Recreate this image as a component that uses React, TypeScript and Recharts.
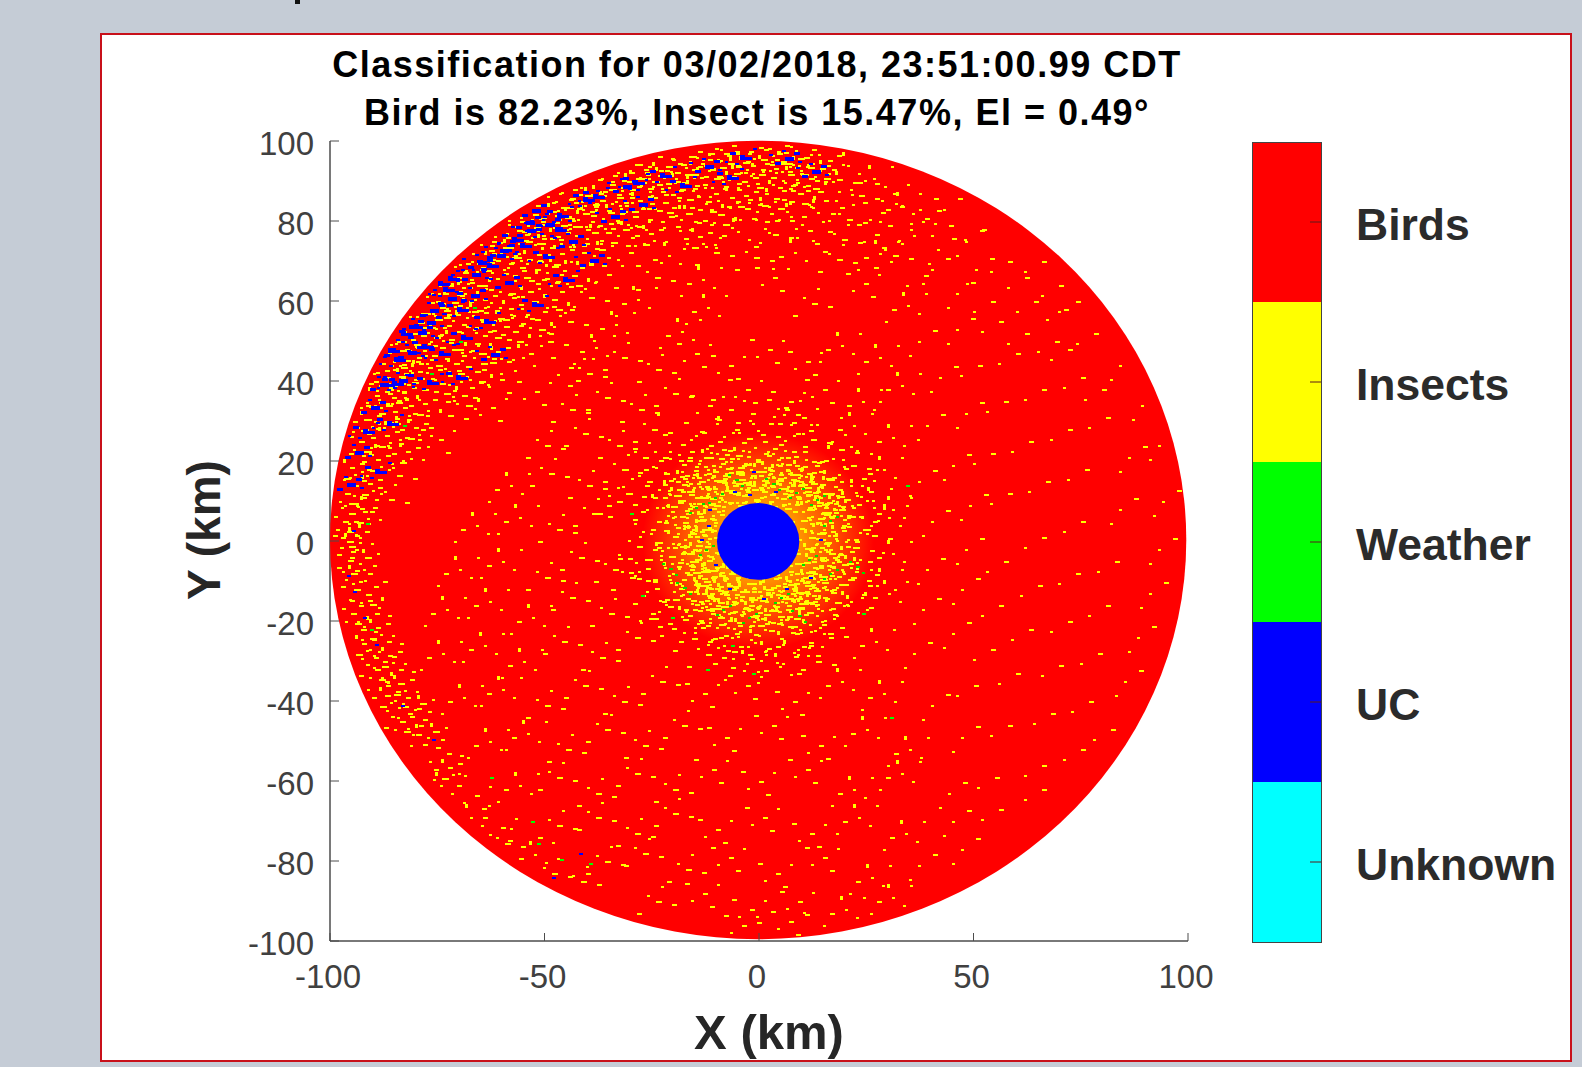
import React from "react"
import { Bar, BarChart, Scatter, ScatterChart, XAxis, YAxis } from "recharts"

const titleLines = ["Classification for 03/02/2018, 23:51:00.99 CDT", "Bird is 82.23%, Insect is 15.47%, El = 0.49°"]
const xTicks = [-100, -50, 0, 50, 100]
const yTicks = [-100, -80, -60, -40, -20, 0, 20, 40, 60, 80, 100]

// colorbar, bottom to top
const classNames = ["Unknown", "UC", "Weather", "Insects", "Birds"]
const classColors = ["#00ffff", "#0000ff", "#00ff00", "#ffff00", "#ff0000"]
const classTicks = [0.5, 1.5, 2.5, 3.5, 4.5]

const coverageDisc = [{ x: -0.2, y: 0.25, radius: 99.8 }]
const clutterHalo = [{ x: -0.2, y: 0, radius: 27 }]
const blankedCentre = [{ x: -0.2, y: -0.1, radius: 9.6 }]

// hand read echo positions (km), each one stands for a small clump of range gates
const insectCore = [
  [-14.2, 19.4], [-6.7, 19.9], [-0.6, 20], [6.4, 19.3], [11.3, 17], [-17.6, 15.8], [-10.8, 17.5], [-4.7, 17.2],
  [2.1, 18.1], [8.3, 16.8], [14.2, 14.2], [-15.3, 13.6], [-8.9, 15.2], [-2.2, 15.9], [4.4, 15.8], [10.1, 14.3], [16.2, 12.1],
  [-19.2, 11.5], [-12.3, 13.2], [-6.1, 13.9], [0.3, 13.1], [6.5, 13.7], [12.6, 12.3], [18.3, 9],
  [-16.4, 9.6], [-9.2, 11.8], [-3.1, 11.4], [3.2, 11.7], [9.4, 10.9], [15.1, 8.6], [-13.1, 7.9], [-7.3, 9.7],
  [-1.2, 10.5], [5.1, 10.8], [11.2, 8.1], [17.2, 6.5], [-18.3, 6.2], [-11.4, 5.8], [13.4, 4.8], [16.8, 2.6], [-15.2, 3.9],
  [-13.2, 1.8], [-17.4, 0.6], [12.1, 1.1], [15.4, -0.5], [-11.8, -0.4], [-14.8, -2.2], [11.9, -2.6], [18.3, -3.2],
  [-18.2, -4.4], [-12.1, -4.8], [-16.3, -6.1], [12.3, -5.1], [15.8, -5.9], [-11.4, -7.2], [11.6, -7.6], [19.2, -7],
  [-14.2, -8.9], [-8.4, -9.6], [14.2, -9.4], [-10.8, -10.1], [8.9, -10.6], [-13.1, -11], [7.6, -11.7], [13.3, -11.8],
  [-8.2, -12.4], [-16.2, -12.6], [-3.4, -12.1], [1.6, -11.9], [5.3, -12.3], [10.3, -12.7], [16.8, -12.7], [-11.2, -14.3], [-5.6, -14.1], [0.2, -14.8], [7.4, -14.3], [12.6, -15.1],
  [-13.3, -15.6], [-8.1, -16.2], [-2.4, -16], [3.6, -16.2], [9.5, -16.4], [-4.3, -18.6], [1.2, -18.2], [6.6, -18.7], [-10.2, -18.3],
]

const insectNear = [
  [-5.5, 28], [2.3, 29.5], [8.7, 27], [-13.4, 27.2], [-9.6, 25], [-2.8, 25.8], [4.6, 24.3], [12.2, 25.4], [-18.1, 24.2], [18.6, 23.1],
  [-22.3, 21], [16.9, 20.7], [21.4, 18.9], [-22.1, 17], [24.1, 15.8], [-26.2, 15], [22.4, 12.2], [-21.2, 12.1], [26.3, 10.2], [-24.1, 8.6],
  [19.4, 8.2], [23.2, 6.3], [-20.3, 6.1], [20.6, 3.8], [-25.2, 2.9], [26.4, 1.4], [-20.2, -0.4], [22.1, -1.4], [-28.4, -1.2], [-23.1, -3.4],
  [25.3, -4.9], [-26.3, -6.8], [21.4, -9.1], [-21.1, -8.4], [-24.3, -11.8], [24.1, -13.2], [-18.4, -13.4], [20.2, -15.8], [-21.3, -16.2], [-15.4, -17],
  [17.3, -18.2], [-25.2, -18.1], [-17.6, -19.4], [-7.3, -19.8], [-1.4, -20.1], [4.8, -19.6], [10.2, -20.3], [14.6, -20.7], [-12.4, -21], [-20.3, -21.8],
  [-4.6, -22.6], [2.3, -22.3], [8.4, -23], [16.2, -23.1], [-9.4, -24], [-15.6, -24.2], [-1.2, -25.3], [5.4, -25.8], [11.6, -25.2], [-6.2, -27.4],
  [1.4, -28.3], [8.1, -28.7], [-12.3, -28.2], [-3.1, -30.6], [13.4, -29.9], [4.6, -31.3], [-31, 12], [30, 6], [29, -10], [-30, -9], [-7, 33], [6, 33],
]

const insectBand = [
  [-8.2, 97], [-2.4, 97.6], [4.2, 97], [10.4, 96], [-13.3, 95.6], [-18.2, 94.2], [-23.4, 92.8], [-28.6, 90.8], [-5.3, 94.1], [1.4, 94.6],
  [7.6, 94.2], [14.2, 93.3], [-11.4, 93.2], [-17, 91.6], [-25, 90.1], [-32.2, 88.6], [-37.4, 87], [-21.3, 88.6], [-15.4, 88.3],
  [-7.2, 90.4], [-1.3, 91], [5.3, 90.2], [11.6, 90.8], [-41.6, 85.1], [-46.2, 83.4], [-34.6, 84.6], [-28.3, 85.3],
  [-22.4, 84.7], [-12.4, 85], [-3.4, 86.6], [3.6, 85.8], [9.2, 87], [-50.2, 81], [-42.4, 80.6],
  [-36.5, 80.8], [-29.3, 81.2], [-18.4, 80.6], [-9.3, 81.7], [-0.8, 82.4],
  [-55.2, 77.4], [-47.4, 76.2], [-40.3, 75.8], [-33.2, 76.6], [-25.6, 77], [-14.2, 76.3], [-58.4, 73.6], [-52.6, 72.4], [-46.4, 72], [-38.6, 71.6],
  [-62.4, 70.4], [-55.6, 68.6], [-49.6, 67.3], [-43.6, 66.4], [-66.6, 66.6], [-59.2, 64.6], [-53.8, 62.6], [-48.2, 60.6],
  [-70.2, 62.4], [-64.4, 60.4], [-58.2, 58.2], [-52.2, 55.6], [-74.4, 58.6], [-68.3, 56], [-62.3, 54.3], [-57.3, 52.6], [-76.6, 53.6], [-72.2, 50.6],
  [-66.3, 49.6], [-61.2, 47.4], [-81.2, 50.6], [-76.3, 46.6], [-71.2, 44.6], [-66.2, 42.6], [-84.3, 46], [-79.6, 42.6], [-74.3, 39.6], [-69.2, 36.6],
  [-87.2, 41], [-83.3, 37.6], [-78.4, 34.6], [-89.4, 36.4], [-85.3, 32.4], [-80.4, 28.6], [-91.4, 30.6], [-87.2, 26.6], [-82.4, 22.4], [-93.3, 25],
  [-89.2, 20.6], [-95.3, 18.6], [-91.2, 14.6], [-96.6, 12], [-92.4, 7.6], [-97, 5], [-94.2, 1.6], [-97.4, -1.6], [-93.2, -5.6], [-96.6, -9.6],
  [-91.6, -13.2], [-95, -18], [-89.3, -21.6], [-92.6, -25.4], [-86.4, -28.6], [-89.6, -32], [-83.6, -35.6], [-87, -38.4], [-80.4, -42], [-83.6, -45],
  [-77.3, -49], [-72.6, -56.6], [-47, 81.4], [-53.9, 77], [-60.4, 72], [-66.5, 66.5], [-72, 60.4], [-77, 54], [-81.4, 47], [-85.2, 39.7], [-88.3, 32],
]

const insectSparse = [
  [-40, 42], [-32, 46], [-24, 43], [-15, 47], [-7, 44], [2, 48], [11, 45], [19, 49], [28, 46], [37, 50], [46, 53], [56, 55], [64, 60], [71, 58],
  [-1.2, 71.1], [8.2, 72.2], [18.2, 70.4], [31.2, 71.4], [41.6, 73], [-24.2, 66], [-13.4, 65.4], [3.2, 66], [24.4, 64.6], [38.4, 66.6], [50.3, 68],
  [-39.6, 61], [-28.4, 60.6], [-12.2, 58.6], [12.3, 59.4], [34.6, 59], [-44.6, 55], [-33.6, 54.3], [-18.2, 52.6], [-49.3, 50], [-38.3, 48.6],
  [-55.3, 46], [-44.4, 43.4], [-60.3, 40.6], [-52.3, 37.6], [-62.4, 33.6], [-72.4, 31.4], [-74.6, 25.6], [-84.3, 16.6], [-86.2, 10.6],
  [20.4, 94], [18.2, 90.4], [26.6, 90.7], [15.2, 85.3], [23.4, 86.4], [31.3, 87.1], [7.3, 81.2], [13.6, 82.2], [20.6, 80.6], [28.4, 82.3], [37.2, 83],
  [-5.2, 77.4], [3.2, 76.8], [11.4, 77.8], [19.3, 75.4], [27.1, 76.8], [35.2, 78], [44.3, 79], [-30.4, 72.2], [-21.2, 71.6], [-10.4, 72.3], [-35.4, 66.7],
  [33, 84], [38, 80], [43, 83], [48, 75], [52, 78], [28, 72], [40, 68], [46, 62], [58, 70], [62, 66], [54, 60], [66, 70], [70, 64], [62, 52], [72, 48], [80, 38], [74, 60],
  [-44, 33], [-36, 36], [-28, 33], [-20, 37], [-12, 34], [-3, 38], [7, 35], [15, 38], [24, 35], [33, 39], [42, 41], [51, 44], [60, 47], [69, 50], [78, 52],
  [-50, 24], [-41, 27], [-33, 24], [-25, 28], [10, 31], [22, 29], [31, 26], [39, 29], [48, 32], [57, 35], [66, 38], [75, 41], [84, 44],
  [-58, 14], [-49, 17], [-40, 14], [-32, 18], [-27, 21], [29, 18], [37, 15], [45, 19], [54, 22], [63, 25], [72, 28], [81, 31], [89, 34],
  [-66, 4], [-56, 6], [-47, 3], [-39, 7], [-33, 10], [31, 8], [40, 5], [49, 9], [58, 12], [67, 15], [76, 18], [86, 21], [93, 24],
  [-70, -7], [-60, -5], [-50, -9], [-42, -4], [-34, -7], [31, -3], [39, -7], [48, -2], [57, -5], [66, 1], [75, 5], [84, 8], [94, 10],
  [-73, -17], [-63, -15], [-53, -19], [-44, -14], [-35, -18], [30, -13], [38, -17], [47, -12], [56, -16], [65, -11], [74, -8], [83, -5], [93, -2],
  [-74, -28], [-64, -26], [-55, -30], [-46, -25], [-37, -29], [-29, -24], [27, -25], [36, -28], [45, -23], [54, -27], [63, -22], [72, -20], [81, -16], [91, -13],
  [-69, -39], [-60, -37], [-50, -41], [-41, -36], [-32, -40], [-23, -35], [-13, -38], [-3, -36], [8, -40], [19, -35], [29, -38], [40, -41], [50, -36], [60, -33], [70, -31], [79, -28], [88, -24],
  [-63, -50], [-54, -48], [-45, -52], [-36, -47], [-27, -51], [-18, -46], [-8, -49], [3, -46], [14, -51], [25, -47], [35, -52], [47, -49], [58, -46], [68, -43], [77, -40], [85, -35],
  [-56, -61], [-47, -59], [-38, -63], [-29, -58], [-20, -62], [-11, -57], [0, -60], [11, -57], [22, -62], [33, -58], [44, -63], [55, -59], [66, -56], [75, -52], [82, -47],
  [-47, -71], [-38, -69], [-29, -73], [-20, -68], [-10, -72], [1, -69], [12, -73], [23, -69], [34, -73], [45, -70], [56, -67], [66, -62],
  [-74.3, -61], [-66.3, -63.4], [-67.3, -69], [-60.2, -71.4], [-59.3, -75.6], [-52.4, -78.2], [-48.3, -83], [-41.4, -85],
  [-36, -80], [-27, -78], [-17, -82], [-7, -79], [4, -83], [15, -79], [26, -84], [37, -81], [47, -77], [-24, -90], [-13, -88], [-2, -92], [9, -90], [20, -92], [31, -89], [-4, -96], [7, -95],
]

const uncertainEchoes = [
  [-74.9, 65], [-73.6, 63.4], [-72.4, 66.2], [-83.4, 52.5], [-79.6, 52.5], [-81.6, 54], [-86.5, 48.3], [-85, 46], [-61, 71.7], [-65.6, 70], [-63.4, 69.4], [-57.5, 76],
  [-55.6, 74.6], [-54.4, 80], [-49.7, 79.6], [-47.6, 78.6], [-41, 86], [-38.6, 86.8], [-31.7, 89], [-29.4, 90.2], [-52.8, 83], [-34.6, 81.4], [-28, 84.4], [-23, 92],
  [-18.4, 89.4], [-12.6, 94], [-7.4, 91.4], [-4.4, 96.6], [6, 96], [12.3, 92.8], [-67.2, 61.8], [-70.4, 58.4], [-76.8, 58], [-78.6, 49.2], [-74.6, 47.4], [-69.4, 51.4],
  [-64, 55.6], [-59.2, 65], [-50.4, 71.8], [-44.2, 75.2], [-39.4, 70.4], [-45.6, 66], [-53, 59.8], [-62.4, 47], [-70.6, 41.4], [-77.4, 40.2], [-83.8, 40.6], [-88.4, 39.6],
  [-90.4, 33.8], [-92.2, 28], [-86.6, 30], [-94.2, 22.6], [-89.6, 18], [-96, 14.4], [-47, 82], [-54, 78], [-60.4, 73], [-67, 67], [-72.4, 61], [-77.4, 55], [-81.8, 47.6], [-85.6, 40],
]

const uncertainFew = [
  [-94.8, 2.8], [-96, -8.4], [-94.6, -12.6], [-92.4, -19], [-89.4, -25.8], [-83.4, -41], [-76.2, -49.6], [-48.2, -84], [-42, -78],
  [-1.6, 17.6], [-6, 12.6], [-2.6, 11.7], [3.6, 12.4], [-11.8, 8], [-12.2, 4], [-13.8, 0.6], [-10.6, -5.8], [-7.2, -11.8], [0.8, -14.3], [6, -11.8], [11.6, -9], [14, 0.4],
]

const weatherCore = [
  [-15, 8.6], [-12.6, -2], [13.2, 10.4], [16.4, -8], [11.4, -4.6], [-17.6, -11.6], [-8.6, -17], [-2.6, -19], [5, -14], [9, -18.4], [-5.6, 15.4], [3, 14.6], [8.4, 12.2], [-10.6, 11], [-21, -6.8], [22.6, -6.2], [16.4, 5.2],
]

const weatherFew = [
  [-70, 50], [-66.6, 58.6], [-76.6, 42], [-83, 29], [-91.6, 4.4], [-90.6, -22], [-62.6, -59], [-53.2, -70], [-51.8, -75.6], [-46.4, -79.6], [-39.6, -80.4], [-12.4, -32], [30.6, -44],
  [-27.4, -13.6], [-20.4, -19], [24, -18], [-6.6, -26], [-1.6, -33], [34.2, 14], [-30, 7],
]

const toPoints = (rows: number[][]) => rows.map(([x, y]) => ({ x, y }))

const PX_PER_KM_X = 858 / 200
const PX_PER_KM_Y = 800 / 200
const AXIS_COLOR = "#4d4d4d"
const TEXT_FONT = "'Liberation Sans', Arial, sans-serif"
// disc outline in chart px, dashes of a clump that fall outside it are dropped
const EDGE = { cx: 758, cy: 540, rx: 425, ry: 396 }

// dash offsets [dx, dy, w, h] in px, what one clump looks like at each density
const faintClumps = [
  [[0, 0, 5, 2], [-18, 10, 3, 2]],
  [[0, 0, 3, 2], [15, -11, 5, 2], [-9, 14, 3, 2]],
]
const sparseClumps = [
  [[0, 0, 5, 2], [14, -9, 3, 2], [-12, 7, 3, 2], [7, 13, 5, 2], [-18, -10, 5, 2]],
  [[0, 0, 3, 2], [-15, 4, 5, 2], [11, 8, 3, 2], [18, -12, 3, 2], [-5, -13, 3, 4], [-22, 16, 3, 2]],
  [[0, 0, 6, 2], [-9, -6, 3, 2], [16, 3, 5, 2], [-19, 12, 5, 2], [5, -15, 3, 2]],
]
const denseClumps = [
  [[0, 0, 6, 2], [-9, -5, 4, 2], [8, -8, 5, 2], [-16, 6, 5, 2], [-6, 8, 3, 2], [4, 10, 7, 2], [15, 3, 3, 4], [-14, -11, 3, 2], [17, -13, 5, 2], [-2, -14, 3, 2], [12, 13, 3, 2]],
  [[0, 0, 3, 2], [6, -6, 7, 2], [-11, -3, 6, 2], [14, 2, 4, 2], [-4, 7, 5, 2], [-17, 8, 3, 2], [9, 10, 5, 2], [-8, -12, 5, 2], [3, -14, 3, 4], [18, -10, 3, 2], [-20, -9, 3, 2]],
  [[0, 0, 5, 2], [-7, -8, 3, 4], [10, -4, 5, 2], [-14, 2, 5, 2], [4, 7, 3, 2], [-6, 11, 7, 2], [16, 8, 3, 2], [-19, -6, 3, 2], [12, -12, 4, 2], [-1, -14, 5, 2], [-15, 12, 3, 2]],
]
const blueClumps = [
  [[0, 0, 9, 4], [-10, 5, 6, 3], [9, -5, 6, 3], [-16, -3, 4, 2], [13, 4, 4, 2], [-3, -7, 4, 2]],
  [[0, 0, 5, 5], [5, 2, 7, 3], [-10, -3, 6, 3], [-5, 8, 4, 2], [13, -7, 4, 2], [-15, 6, 3, 2]],
]
const smallClumps = [
  [[0, 0, 3, 2], [-6, 5, 3, 2], [7, -4, 3, 2]],
  [[0, 0, 4, 2], [6, 6, 3, 2], [-7, -5, 3, 2]],
]
const singleDash = [[[0, 0, 4, 2]]]

function Disc({ cx, cy, payload, fill }: any) {
  return <ellipse cx={cx} cy={cy} rx={payload.radius * PX_PER_KM_X} ry={payload.radius * PX_PER_KM_Y} fill={fill} />
}

function Clump({ cx, cy, fill, clumps }: any) {
  const dashes = clumps[Math.abs(Math.round(cx * 7 + cy * 3)) % clumps.length]
  const inside = dashes.filter(([dx, dy]: number[]) => {
    const u = (cx + dx - EDGE.cx) / EDGE.rx
    const v = (cy + dy - EDGE.cy) / EDGE.ry
    return u * u + v * v < 1
  })
  return (
    <g>
      {inside.map(([dx, dy, w, h]: number[], i: number) => (
        <rect key={i} x={Math.round(cx + dx)} y={Math.round(cy + dy)} width={w} height={h} fill={fill} shapeRendering="crispEdges" />
      ))}
    </g>
  )
}

function BottomTick({ x, y, payload }: any) {
  return (
    <g>
      <line x1={x} x2={x} y1={y} y2={y - 8} stroke={AXIS_COLOR} strokeWidth={1} />
      <text x={x - 2} y={y + 47} textAnchor="middle" fontSize={33} fill="#404040" fontFamily={TEXT_FONT}>{payload.value}</text>
    </g>
  )
}

function LeftTick({ x, y, payload }: any) {
  return (
    <g>
      <line x1={x} x2={x + 9} y1={y} y2={y} stroke={AXIS_COLOR} strokeWidth={1} />
      <text x={x - 16} y={y + 14} textAnchor="end" fontSize={33} fill="#404040" fontFamily={TEXT_FONT}>{payload.value}</text>
    </g>
  )
}

function TopTick({ x, y }: any) {
  return <line x1={x} x2={x} y1={y} y2={y + 8} stroke={AXIS_COLOR} strokeWidth={1} />
}

function RightTick({ x, y }: any) {
  return <line x1={x} x2={x - 11} y1={y} y2={y} stroke={AXIS_COLOR} strokeWidth={1} />
}

function ClassTick({ x, y, payload }: any) {
  return (
    <g>
      <line x1={x} x2={x - 11} y1={y} y2={y} stroke="#5a1a1a" strokeWidth={1} />
      <text x={x + 35} y={y + 18} fontSize={44.5} fontWeight="bold" fill="#2b2b2b" fontFamily={TEXT_FONT}>
        {classNames[classTicks.indexOf(payload.value)]}
      </text>
    </g>
  )
}

export default function App() {
  const barRow: Record<string, string | number> = { name: "classes" }
  classNames.forEach((c) => {
    barRow[c] = 1
  })
  const axisLine = { stroke: AXIS_COLOR, strokeWidth: 1.5 }

  return (
    <div style={{ position: "fixed", left: 0, top: 0, width: 1582, height: 1067, background: "#c5ccd6", overflow: "hidden" }}>
      <div style={{ position: "absolute", left: 295, top: 0, width: 5, height: 4, background: "#111" }} />
      <div style={{ position: "absolute", left: 100, top: 33, width: 1468, height: 1025, background: "#fff", border: "2px solid #c8101a" }} />

      <div style={{ position: "absolute", left: 0, top: 0 }}>
        <ScatterChart width={1582} height={1067} margin={{ top: 141, right: 394, bottom: 66, left: 250 }}>
          <defs>
            <radialGradient id="halo">
              <stop offset="35%" stopColor="#ff9500" />
              <stop offset="65%" stopColor="#ff5000" />
              <stop offset="100%" stopColor="#ff0000" />
            </radialGradient>
          </defs>
          <XAxis type="number" dataKey="x" domain={[-100, 100]} ticks={xTicks} interval={0} height={60} tick={<BottomTick />} tickLine={false} tickSize={0} tickMargin={0} axisLine={axisLine} />
          <XAxis xAxisId="top" orientation="top" type="number" dataKey="x" domain={[-100, 100]} ticks={xTicks} interval={0} height={0} tick={<TopTick />} tickLine={false} tickSize={0} tickMargin={0} axisLine={axisLine} />
          <YAxis type="number" dataKey="y" domain={[-100, 100]} ticks={yTicks} interval={0} width={80} tick={<LeftTick />} tickLine={false} tickSize={0} tickMargin={0} axisLine={axisLine} />
          <YAxis yAxisId="right" orientation="right" type="number" dataKey="y" domain={[-100, 100]} ticks={yTicks} interval={0} width={0} tick={<RightTick />} tickLine={false} tickSize={0} tickMargin={0} axisLine={axisLine} />

          <Scatter data={coverageDisc} fill="#ff0000" shape={<Disc />} isAnimationActive={false} />
          <Scatter data={clutterHalo} fill="url(#halo)" shape={<Disc />} isAnimationActive={false} />
          <Scatter data={toPoints(insectSparse.filter((p) => p[0] > 35))} fill="#ffff00" shape={<Clump clumps={faintClumps} />} isAnimationActive={false} />
          <Scatter data={toPoints(insectSparse.filter((p) => p[0] <= 35))} fill="#ffff00" shape={<Clump clumps={sparseClumps} />} isAnimationActive={false} />
          <Scatter data={toPoints(insectBand)} fill="#ffff00" shape={<Clump clumps={denseClumps} />} isAnimationActive={false} />
          <Scatter data={toPoints(insectNear)} fill="#ffff00" shape={<Clump clumps={sparseClumps} />} isAnimationActive={false} />
          <Scatter data={toPoints(insectCore)} fill="#ffff00" shape={<Clump clumps={denseClumps} />} isAnimationActive={false} />
          <Scatter data={toPoints(weatherFew)} fill="#00ff00" shape={<Clump clumps={singleDash} />} isAnimationActive={false} />
          <Scatter data={toPoints(weatherCore)} fill="#00e000" shape={<Clump clumps={smallClumps} />} isAnimationActive={false} />
          <Scatter data={toPoints(uncertainEchoes)} fill="#0000ff" shape={<Clump clumps={blueClumps} />} isAnimationActive={false} />
          <Scatter data={toPoints(uncertainFew)} fill="#0000ff" shape={<Clump clumps={singleDash} />} isAnimationActive={false} />
          <Scatter data={blankedCentre} fill="#0000ff" shape={<Disc />} isAnimationActive={false} />

          {titleLines.map((line, i) => (
            <text key={line} x={757} y={77 + i * 48} textAnchor="middle" fontSize={36} letterSpacing={1.5} fontWeight="bold" fill="#000" fontFamily={TEXT_FONT}>
              {line}
            </text>
          ))}
          <text x={769} y={1049} textAnchor="middle" fontSize={49} fontWeight="bold" fill="#262626" fontFamily={TEXT_FONT}>X (km)</text>
          <text transform="translate(220 530) rotate(-90)" textAnchor="middle" fontSize={46} fontWeight="bold" fill="#262626" fontFamily={TEXT_FONT}>Y (km)</text>
        </ScatterChart>
      </div>

      <div style={{ position: "absolute", left: 1252, top: 142 }}>
        <BarChart width={319} height={800} data={[barRow]} barCategoryGap={0} margin={{ top: 0, right: 0, bottom: 0, left: 0 }}>
          <XAxis dataKey="name" hide />
          <YAxis orientation="right" type="number" domain={[0, 5]} ticks={classTicks} interval={0} width={250} tick={<ClassTick />} tickLine={false} tickSize={0} tickMargin={0} axisLine={false} />
          {classNames.map((c, i) => (
            <Bar key={c} dataKey={c} stackId="classes" fill={classColors[i]} isAnimationActive={false} />
          ))}
        </BarChart>
        <div style={{ position: "absolute", left: 0, top: 0, width: 68, height: 799, border: "1px solid #444", pointerEvents: "none" }} />
      </div>
    </div>
  )
}
